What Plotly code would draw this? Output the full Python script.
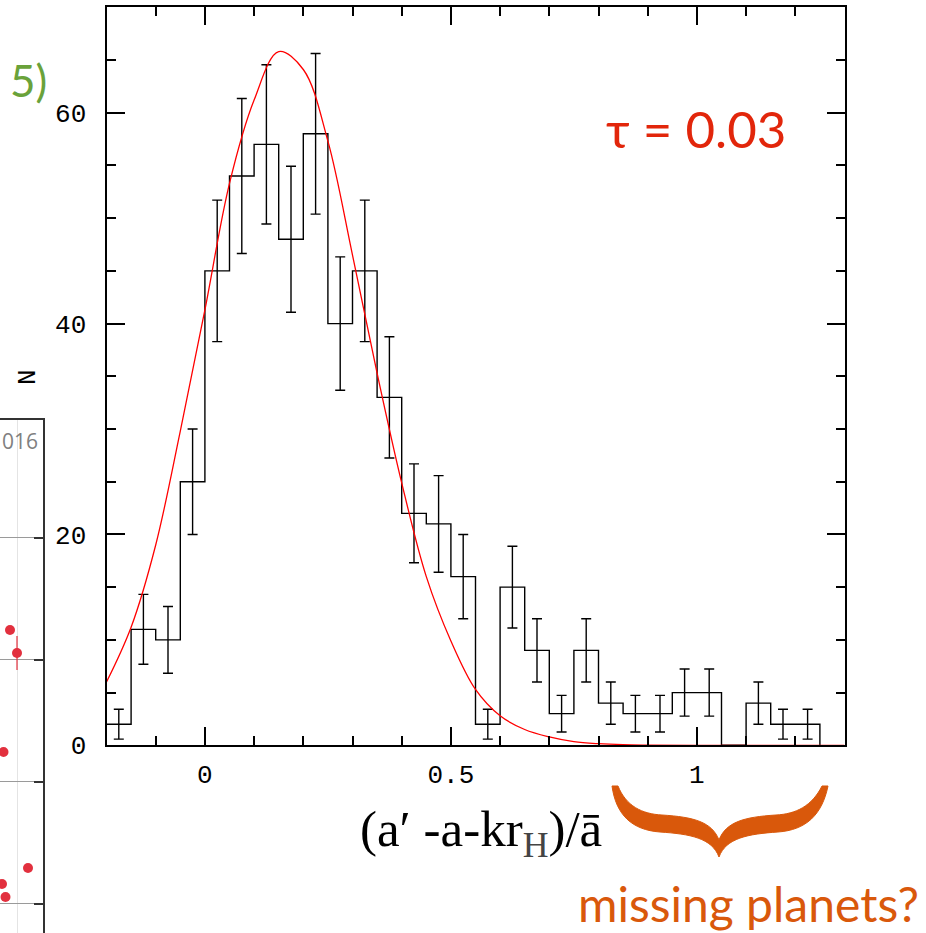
import numpy as np
import plotly.graph_objects as go

# ---------------- data ----------------
bin_edges = [-0.2, -0.15, -0.1, -0.05, 0.0, 0.05, 0.1, 0.15, 0.2, 0.25, 0.3, 0.35,
             0.4, 0.45, 0.5, 0.55, 0.6, 0.65, 0.7, 0.75, 0.8, 0.85, 0.9, 0.95,
             1.0, 1.05, 1.1, 1.15, 1.2, 1.25]
counts = [2, 11, 10, 25, 45, 54, 57, 48, 58, 40, 45, 33, 22, 21, 16, 2,
          15, 9, 3, 9, 4, 3, 3, 5, 5, 0, 4, 2, 2]

fit_x = [-0.2, -0.15, -0.1, -0.05, 0.0, 0.05, 0.1, 0.15, 0.2, 0.25, 0.3, 0.35,
         0.4, 0.45, 0.5, 0.55, 0.6, 0.65, 0.7, 0.75, 0.8, 0.85, 0.9, 1.0, 1.3]
fit_y = [6.0, 11.2, 19.0, 29.8, 41.3, 53.3, 61.2, 65.8, 64.1, 57.3, 46.5, 35.3,
         24.9, 16.0, 9.9, 5.3, 2.8, 1.5, 0.8, 0.35, 0.15, 0.05, 0.02, 0.0, 0.0]

x_tick_vals = [0, 0.5, 1]
x_tick_text = ["0", "0.5", "1"]
y_tick_vals = [0, 20, 40, 60]

# fragment of a neighbouring chart at the left edge (its own arbitrary scale)
frag_x = [10, 17, 3.5, 28, 2, 5.5]
frag_y = [3.246, 3.057, 2.246, 1.295, 1.164, 1.057]
frag_err = [0, 0.14, 0, 0, 0, 0]
frag_grid_y = [1, 2, 3, 4]
frag_grid_x = [17]

W, H = 926, 933


def px(x):
    return x / W


def py(y):
    return 1 - y / H


# ---------------- figure ----------------
fig = go.Figure()

# histogram outline (step)
step_y = counts + [0]
fig.add_trace(go.Scatter(x=bin_edges, y=step_y, mode="lines", line_shape="hv",
                         line=dict(color="black", width=1.4), hoverinfo="skip",
                         showlegend=False))

# error bars (Poisson)
centers = [(bin_edges[i] + bin_edges[i + 1]) / 2 for i in range(len(counts))]
ex = [c for c, n in zip(centers, counts) if n > 0]
ey = [n for n in counts if n > 0]
fig.add_trace(go.Scatter(x=ex, y=ey, mode="markers",
                         marker=dict(size=1, color="rgba(0,0,0,0)"),
                         error_y=dict(type="data", array=np.sqrt(ey), color="black",
                                      thickness=1.4, width=5),
                         showlegend=False, hoverinfo="skip"))

# red fit curve
fig.add_trace(go.Scatter(x=fit_x, y=fit_y, mode="lines", line_shape="spline",
                         line=dict(color="#ff0000", width=1.3), showlegend=False,
                         hoverinfo="skip"))

# fragment of neighbouring plot
fig.add_trace(go.Scatter(x=frag_x, y=frag_y, mode="markers", xaxis="x2", yaxis="y2",
                         marker=dict(color="#e2303e", size=10), cliponaxis=False,
                         error_y=dict(type="data", array=frag_err, color="rgba(226,48,62,0.6)",
                                      thickness=2, width=0),
                         showlegend=False, hoverinfo="skip"))

tick_font = dict(family="Liberation Mono, Courier New, monospace", size=26, color="black")

fig.update_layout(
    width=W, height=H, template="none",
    margin=dict(l=0, r=0, t=0, b=0),
    paper_bgcolor="white", plot_bgcolor="white",
    showlegend=False,
    xaxis=dict(domain=[px(106.5), px(844.5)], range=[-0.2, 1.3],
               tickvals=x_tick_vals, ticktext=x_tick_text,
               ticks="inside", ticklen=18, tickwidth=1.5, tickcolor="black",
               minor=dict(dtick=0.1, tick0=0, ticks="inside", ticklen=9, tickwidth=1.5,
                          tickcolor="black", showgrid=False),
               showline=True, linecolor="black", linewidth=2, mirror="allticks",
               showgrid=False, zeroline=False, automargin=False,
               tickfont=tick_font, ticklabelstandoff=4),
    yaxis=dict(domain=[py(745.3), py(7.3)], range=[0, 70],
               tickvals=y_tick_vals,
               ticks="inside", ticklen=18, tickwidth=1.5, tickcolor="black",
               minor=dict(dtick=5, tick0=0, ticks="inside", ticklen=9, tickwidth=1.5,
                          tickcolor="black", showgrid=False),
               showline=True, linecolor="black", linewidth=2, mirror="allticks",
               showgrid=False, zeroline=False, automargin=False,
               tickfont=tick_font, ticklabelstandoff=13),
    xaxis2=dict(domain=[0, px(43)], range=[0, 43], anchor="y2", side="top",
                showline=True, linecolor="#333333", linewidth=2,
                showgrid=True, gridcolor="#e4e4e4", gridwidth=1,
                tickvals=frag_grid_x, showticklabels=False, ticks="",
                zeroline=False, automargin=False),
    yaxis2=dict(domain=[0, py(420)], range=[0.762, 4.967], anchor="x2", side="right",
                showline=True, linecolor="#333333", linewidth=2,
                showgrid=True, gridcolor="#9a9a9a", gridwidth=1.2,
                tickvals=frag_grid_y, showticklabels=False, ticks="inside",
                ticklen=9, tickcolor="#333333", tickwidth=2,
                zeroline=False, automargin=False),
)

annotations = [
    dict(text="N", x=px(28), y=py(377), textangle=-90,
         font=dict(family="Liberation Mono, monospace", size=26, color="black")),
    dict(text="(a′ -a-kr<sub><span style='color:#444444'>H</span></sub>)/ā",
         x=px(481), y=py(833),
         font=dict(family="Liberation Serif, Times New Roman, serif", size=51, color="black")),
    dict(text="τ = 0.03", x=px(696), y=py(128),
         font=dict(family="Lato, Open Sans, sans-serif", size=51, color="#e2260b")),
    dict(text="5)", x=px(28), y=py(80),
         font=dict(family="Lato, Open Sans, sans-serif", size=44, color="#6aa23a")),
    dict(text="missing planets?", x=px(748), y=py(903),
         font=dict(family="Lato, Open Sans, sans-serif", size=48, color="#d9580b")),
    dict(text="016", x=px(0), y=py(441), xanchor="left",
         font=dict(family="Open Sans, sans-serif", size=21, color="#808080")),
]
for a in annotations:
    a.update(xref="paper", yref="paper", showarrow=False)
    a.setdefault("xanchor", "center")
    a.setdefault("yanchor", "middle")
fig.update_layout(annotations=annotations)

# curly brace (decoration) in pixel coordinates -> paper coordinates
brace_pts = [
    ("M", [(612, 786)]),
    ("C", [(616, 815), (632, 830), (660, 832)]),
    ("C", [(690, 834), (712, 838), (719, 857)]),
    ("C", [(726, 838), (748, 834), (778, 832)]),
    ("C", [(806, 830), (822, 815), (828, 786)]),
    ("L", [(822, 786)]),
    ("C", [(812, 806), (796, 814), (776, 815)]),
    ("C", [(744, 817), (726, 822), (719, 840)]),
    ("C", [(712, 822), (694, 817), (662, 815)]),
    ("C", [(642, 814), (626, 806), (618, 786)]),
]
path = ""
for cmd, pts in brace_pts:
    path += cmd + " " + " ".join(f"{px(x):.5f},{py(y):.5f}" for x, y in pts) + " "
path += "Z"
fig.add_shape(type="path", path=path, xref="paper", yref="paper",
              fillcolor="#d9580b", line=dict(color="#d9580b", width=1))

fig.write_html("out.html", config={"displayModeBar": False},
               post_script="document.body.style.margin='0';document.body.style.overflow='hidden';")
